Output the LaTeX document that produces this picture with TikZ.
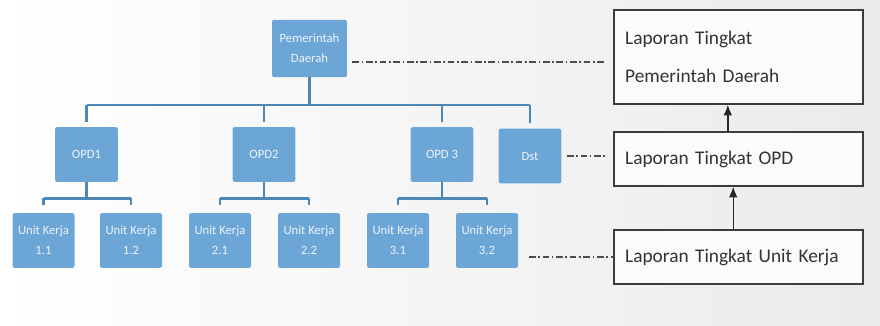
\documentclass[tikz,border=0pt]{standalone}
\usepackage{fontspec}
\setmainfont{Carlito}
\usetikzlibrary{arrows.meta}
\definecolor{boxblue}{RGB}{108,166,214}
\definecolor{lineblue}{RGB}{78,134,180}
\definecolor{framegray}{RGB}{60,60,60}
\begin{document}
\begin{tikzpicture}[x=0.75pt,y=-0.75pt,
        unit/.style={rectangle,rounded corners=1.5pt,fill=boxblue,
            text=white!88!boxblue,align=center,inner sep=1pt,
            font=\fontsize{9.5}{15}\selectfont},
        opd/.style={unit,minimum width=47pt,minimum height=41pt},
        kerja/.style={unit,minimum width=46.5pt,minimum height=41pt},
        lapor/.style={draw=framegray,line width=1.1pt,fill=white!60!black!4,
            minimum width=187pt,text width=170pt,inner xsep=8.5pt,align=left,
            font=\fontsize{14.5}{28.5}\selectfont,text=black!80},
        tree/.style={draw=lineblue,line width=2.2pt},
        link/.style={draw=black!70,line width=1pt,
            dash pattern=on 5pt off 2pt on 1.2pt off 2pt},
        arr/.style={-{Latex[length=8pt,width=6.5pt]},line width=1pt,black!85}]
    \shade[left color=white,right color=black!8] (0,0) rectangle (880,325);
    \useasboundingbox (0,0) rectangle (880,325);

    % struktur organisasi
    \node[unit,minimum width=56pt,minimum height=43pt] (pd) at (309.5,48.5)
        {Pemerintah\\Daerah};
    \node[opd] (opd1) at (86.5,154.5) {OPD1};
    \node[opd] (opd2) at (264,154.5) {OPD2};
    \node[opd] (opd3) at (442,154.5) {OPD 3};
    \node[opd] (dst) at (530,156) {Dst};

    \node[kerja] (u11) at (43.5,240.5) {Unit Kerja\\1.1};
    \node[kerja] (u12) at (131,240.5) {Unit Kerja\\1.2};
    \node[kerja] (u21) at (220,240.5) {Unit Kerja\\2.1};
    \node[kerja] (u22) at (309,240.5) {Unit Kerja\\2.2};
    \node[kerja] (u31) at (398,240.5) {Unit Kerja\\3.1};
    \node[kerja] (u32) at (487,240.5) {Unit Kerja\\3.2};

    \coordinate (bus) at (0,105);
    \draw[tree] (pd.south) -- (pd.south |- bus);
    \draw[tree] (opd1.north |- bus) -- (dst.north |- bus);
    \foreach \o in {opd1,opd2,opd3,dst}
        \draw[tree,shorten >=4pt] (\o.north |- bus) -- (\o.north);

    \foreach \o/\a/\b in {opd1/u11/u12,opd2/u21/u22,opd3/u31/u32}{
        \draw[tree] (\o.south) -- ++(0,-12pt) coordinate (\o-bus);
        \draw[tree] (\a.north |- \o-bus) -- (\b.north |- \o-bus);
        \draw[tree,shorten >=6pt] (\a.north |- \o-bus) -- (\a.north);
        \draw[tree,shorten >=6pt] (\b.north |- \o-bus) -- (\b.north);
    }

    % tingkat laporan
    \node[lapor,minimum height=70.5pt] (lpd) at (738.5,57)
        {Laporan Tingkat\\Pemerintah Daerah};
    \node[lapor,minimum height=40.5pt] (lopd) at (738.5,159)
        {Laporan Tingkat OPD};
    \node[lapor,minimum height=40.5pt] (luk) at (738.5,257)
        {Laporan Tingkat Unit Kerja};

    \draw[arr] ([xshift=-4pt]luk.north) -- ([xshift=-4pt]lopd.south);
    \draw[arr] ([xshift=-8pt]lopd.north) -- ([xshift=-8pt]lpd.south);

    \draw[link,shorten <=4pt,shorten >=5pt] ([yshift=-10pt]pd.east)
        -- ([yshift=-10pt]pd.east -| lpd.west);
    \draw[link,shorten <=4pt,shorten >=5pt] (dst.east) -- (dst.east -| lopd.west);
    \draw[link,shorten <=8pt] (luk.west -| u32.east) -- (luk.west);
\end{tikzpicture}
\end{document}
